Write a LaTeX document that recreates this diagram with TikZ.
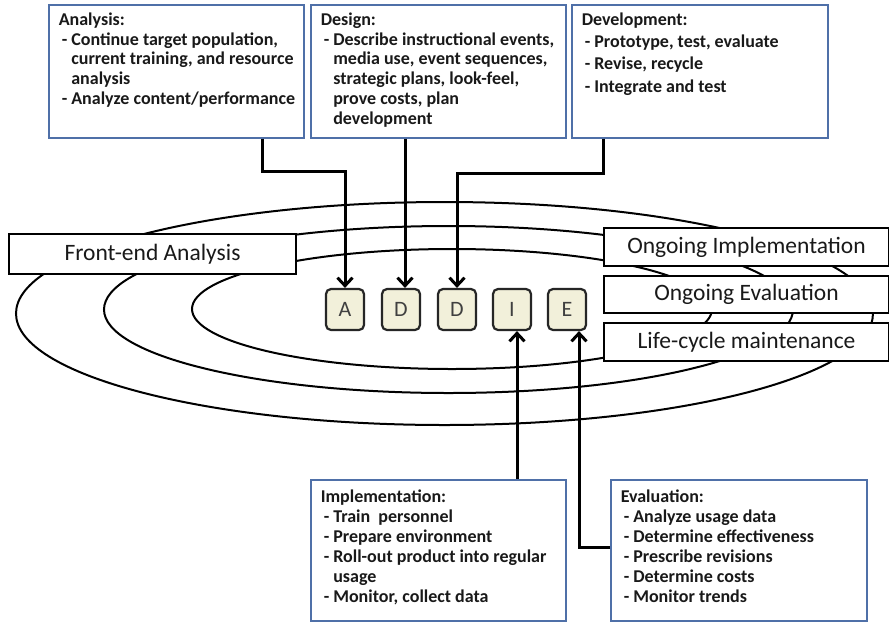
\documentclass[tikz,border=0pt]{standalone}
\usepackage{fontspec}
\setmainfont{Carlito}
\usetikzlibrary{arrows.meta}
\definecolor{boxblue}{RGB}{79,112,168}
\definecolor{txt}{RGB}{25,25,25}
\definecolor{cream}{RGB}{242,240,218}
\newcommand\dl[1]{\mbox{\hspace*{3pt}- #1}}
\newcommand\cl[1]{\mbox{\hspace*{3pt}\phantom{- }#1}}
\begin{document}
\begin{tikzpicture}[x=1pt,y=-1pt,
 info/.style={draw=boxblue, line width=1.5pt, fill=white, anchor=north west, inner xsep=10pt, inner ysep=6pt, text=txt, font=\bfseries\fontsize{18}{19.8}\selectfont},
 lbl/.style={draw=black, line width=2pt, fill=white, anchor=north west, inner sep=0pt, text=txt, font=\fontsize{23.5}{26}\selectfont},
 letter/.style={draw=black!85, line width=2.2pt, fill=cream, rounded corners=5pt, minimum width=38pt, minimum height=41pt, inner sep=0pt, text=black!75, font=\fontsize{22}{24}\selectfont},
 ring/.style={line width=2pt},
 arr/.style={line width=3pt, -{Straight Barb[length=8pt,width=15pt]}}]
\useasboundingbox[fill=white] (0,0) rectangle (889,622);

% rings
\draw[ring] (444.5,313.5) ellipse [x radius=428.5pt, y radius=111.5pt];
\draw[ring] (448.5,309.5) ellipse [x radius=344.5pt, y radius=83.5pt];
\draw[ring] (452,309) ellipse [x radius=260pt, y radius=60pt];

% labels on rings
\node[lbl, minimum width=287pt, minimum height=40pt] (fe) at (8,233) {Front-end Analysis};
\node[lbl, minimum width=285pt, minimum height=38pt] (oi) at (603,227) {Ongoing Implementation};
\node[lbl, minimum width=285pt, minimum height=37pt] (oe) at (603,275) {Ongoing Evaluation};
\node[lbl, minimum width=285pt, minimum height=38pt] (lc) at (603,322) {Life-cycle maintenance};

% ADDIE
\node[letter] (A) at (345,309.5) {A};
\node[letter] (D1) at (401,309.5) {D};
\node[letter] (D2) at (457,309.5) {D};
\node[letter] (I) at (512,309.5) {I};
\node[letter] (E) at (567,309.5) {E};

% info boxes
\node[info] (ana) at (48,4) {\parbox[t][121pt][t]{235pt}{\vspace*{2pt}\mbox{Analysis:}\\
\dl{Continue target population,}\\
\cl{current training, and resource}\\
\cl{analysis}\\
\dl{Analyze content/performance}}};

\node[info] (des) at (310,4) {\parbox[t][121pt][t]{235pt}{\vspace*{2pt}\mbox{Design:}\\
\dl{Describe instructional events,}\\
\cl{media use, event sequences,}\\
\cl{strategic plans, look-feel,}\\
\cl{prove costs, plan}\\
\cl{development}}};

\node[info] (dev) at (571,4) {\parbox[t][121pt][t]{236pt}{\fontsize{18}{22.3}\selectfont\vspace*{2pt}\mbox{Development:}\\
\dl{Prototype, test, evaluate}\\
\dl{Revise, recycle}\\
\dl{Integrate and test}}};

\node[info] (imp) at (310,479) {\parbox[t][129pt][t]{235pt}{\fontsize{18}{20}\selectfont\vspace*{4pt}\mbox{Implementation:}\\
\dl{Train\ \ personnel}\\
\dl{Prepare environment}\\
\dl{Roll-out product into regular}\\
\cl{usage}\\
\dl{Monitor, collect data}}};

\node[info] (eva) at (610,479) {\parbox[t][129pt][t]{236pt}{\fontsize{18}{20}\selectfont\vspace*{4pt}\mbox{Evaluation:}\\
\dl{Analyze usage data}\\
\dl{Determine effectiveness}\\
\dl{Prescribe revisions}\\
\dl{Determine costs}\\
\dl{Monitor trends}}};

% connectors
\draw[arr] (262,0 |- ana.south) -- (262,171) -| (A.north);
\draw[arr] (405,0 |- des.south) -- (405,0 |- D1.north);
\draw[arr] (603,0 |- dev.south) -- (603,173) -| (D2.north);
\draw[arr] (517,0 |- imp.north) -- (517,0 |- I.south);
\draw[arr] ([yshift=3pt]eva.west) -| (579,0 |- E.south);
\end{tikzpicture}
\end{document}
